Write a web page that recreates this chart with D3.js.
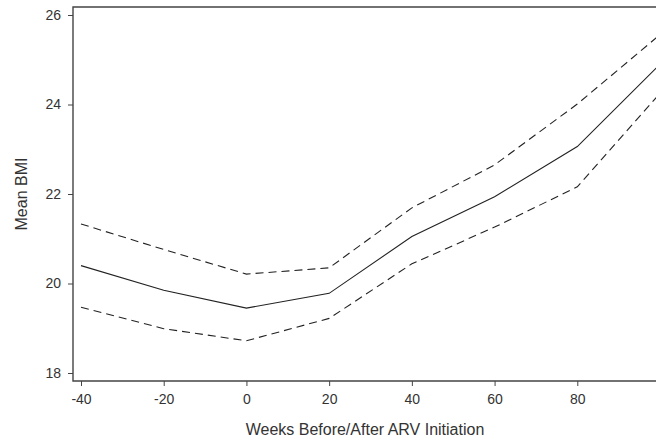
<!DOCTYPE html>
<html>
<head>
    <meta charset="utf-8">
    <title>bmi</title>
    <script src="https://d3js.org/d3.v7.min.js"></script>
    <style>
        body { margin: 0; background: #fff; }
        text { font-family: "Liberation Sans", Arial, sans-serif; fill: #333; }
    </style>
</head>
<body>
    <svg width="656" height="442" id="mainsvg"></svg>
    <script>
        // weeks before/after ARV initiation
        const weeks = [-40, -20, 0, 20, 40, 60, 80, 100];
        const meanBMI = [20.40, 19.85, 19.45, 19.78, 21.05, 21.94, 23.06, 24.90];
        const upperCI = [21.33, 20.76, 20.21, 20.35, 21.69, 22.65, 24.01, 25.56];
        const lowerCI = [19.47, 18.99, 18.72, 19.22, 20.44, 21.26, 22.16, 24.25];
        const xTicks = [-40, -20, 0, 20, 40, 60, 80];
        const yTicks = [18, 20, 22, 24, 26];

        let svg = d3.select('#mainsvg');
        const pLeft = 73, pTop = 7, pBottom = 381, pRight = 656;

        const x = d3.scaleLinear().domain([-40, 80]).range([81, 577.3]);
        const y = d3.scaleLinear().domain([18, 26]).range([373, 15]);

        svg.append('defs').append('clipPath').attr('id', 'plotclip')
            .append('rect').attr('x', pLeft).attr('y', pTop)
            .attr('width', pRight - pLeft).attr('height', pBottom - pTop);

        const axisColor = '#444';

        // y axis
        const yaxis = d3.axisLeft(y).tickValues(yTicks).tickSize(5).tickPadding(7)
            .tickFormat(d => String(d));
        const gy = svg.append('g').attr('transform', `translate(${pLeft},0)`).call(yaxis);
        gy.select('.domain').remove();
        gy.selectAll('line').attr('stroke', axisColor);
        gy.selectAll('text').style('font-size', '14px').attr('fill', '#333');

        // x axis (plain hyphen for negatives, like the original)
        const xaxis = d3.axisBottom(x).tickValues(xTicks).tickSize(5).tickPadding(8)
            .tickFormat(d => String(d));
        const gx = svg.append('g').attr('transform', `translate(0,${pBottom})`).call(xaxis);
        gx.select('.domain').remove();
        gx.selectAll('line').attr('stroke', axisColor);
        gx.selectAll('text').style('font-size', '14px').attr('fill', '#333');

        // frame: left, top, bottom
        svg.append('path')
            .attr('d', `M${pRight},${pTop}H${pLeft}V${pBottom}H${pRight}`)
            .attr('fill', 'none').attr('stroke', axisColor).attr('stroke-width', 1.4);

        const line = d3.line().x((d, i) => x(weeks[i])).y(d => y(d));
        const g = svg.append('g').attr('clip-path', 'url(#plotclip)');

        g.append('path').datum(meanBMI).attr('d', line)
            .attr('fill', 'none').attr('stroke', '#222').attr('stroke-width', 1.1);
        [upperCI, lowerCI].forEach(s => {
            g.append('path').datum(s).attr('d', line)
                .attr('fill', 'none').attr('stroke', '#222').attr('stroke-width', 1.1)
                .attr('stroke-dasharray', '8,5');
        });

        // titles
        svg.append('text').attr('x', 365).attr('y', 435).attr('text-anchor', 'middle')
            .style('font-size', '16px').text('Weeks Before/After ARV Initiation');
        svg.append('text').attr('transform', 'translate(27,194) rotate(-90)')
            .attr('text-anchor', 'middle').style('font-size', '16px').text('Mean BMI');
    </script>
</body>
</html>
